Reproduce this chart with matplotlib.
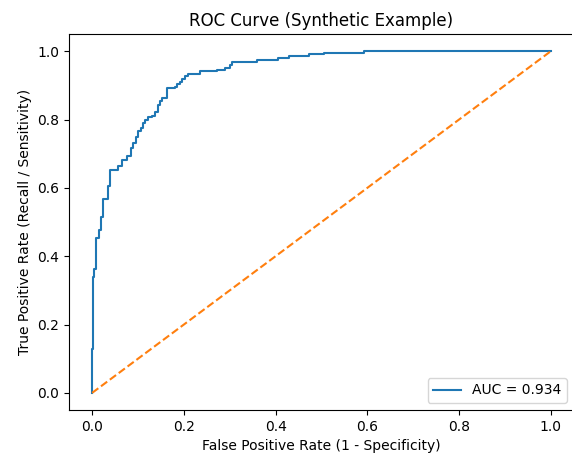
import matplotlib
matplotlib.use('Agg')
from matplotlib import pyplot as plt

# ROC corner points (steps-post)
fpr = [0, 0, 0.002, 0.004, 0.009, 0.015, 0.019, 0.024, 0.035, 0.040,
       0.057, 0.066, 0.076, 0.084, 0.090, 0.095, 0.101, 0.106, 0.111, 0.116,
       0.121, 0.130, 0.138, 0.143, 0.148, 0.152, 0.164, 0.181, 0.186, 0.192,
       0.196, 0.203, 0.210, 0.236, 0.272, 0.290, 0.300, 0.306, 0.360, 0.405,
       0.430, 0.473, 0.506, 0.593, 1.0]
tpr = [0, 0.128, 0.338, 0.364, 0.452, 0.478, 0.516, 0.566, 0.606, 0.653,
       0.663, 0.682, 0.694, 0.716, 0.731, 0.748, 0.765, 0.774, 0.789, 0.799,
       0.807, 0.810, 0.823, 0.843, 0.855, 0.862, 0.891, 0.894, 0.905, 0.911,
       0.920, 0.927, 0.932, 0.942, 0.946, 0.951, 0.959, 0.969, 0.974, 0.981,
       0.985, 0.991, 0.995, 1.0, 1.0]
auc = 0.934
diag = [0, 1]

fig = plt.figure(figsize=(5.72, 4.55), dpi=100)
# the reference is cropped a little on the right, so the right spine sits off-canvas
plt.subplots_adjust(left=0.121, right=1.003, top=0.925, bottom=0.099)
plt.plot(fpr, tpr, drawstyle='steps-post', label=f'AUC = {auc:.3f}')
plt.plot(diag, diag, linestyle='--')
plt.title('ROC Curve (Synthetic Example)')
plt.xlabel('False Positive Rate (1 - Specificity)')
plt.ylabel('True Positive Rate (Recall / Sensitivity)')
plt.legend(loc='lower right')
plt.savefig('out.png')
